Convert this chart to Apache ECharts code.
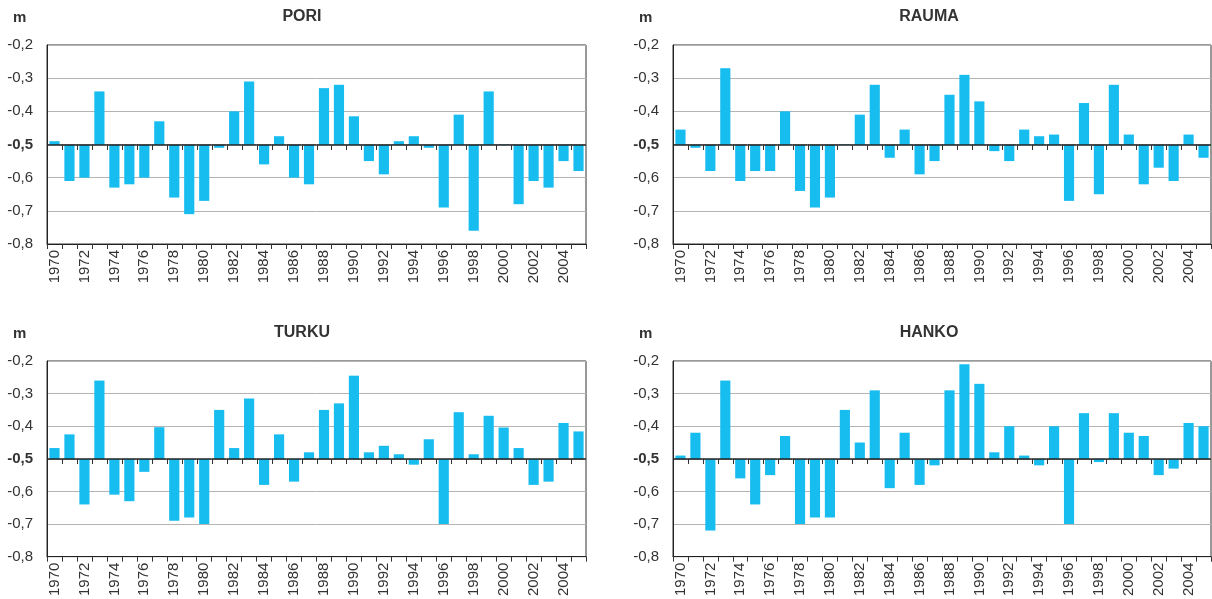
<!DOCTYPE html>
<html>
<head>
<meta charset="utf-8">
<script src="https://cdn.jsdelivr.net/npm/echarts@6/dist/echarts.min.js"></script>
<style>
  html, body { margin: 0; padding: 0; background: #fff; }
  #chart { width: 1212px; height: 599px; }
</style>
</head>
<body>
<div id="chart"></div>
<script>
  // vuodet ja asemien arvot (m)
  const years = []
  for (let y = 1970; y <= 2005; y++) years.push(String(y))

  const pori = [-0.49, -0.61, -0.60, -0.34, -0.63, -0.62, -0.60, -0.43, -0.66, -0.71,
    -0.67, -0.51, -0.40, -0.31, -0.56, -0.475, -0.60, -0.62, -0.33, -0.32,
    -0.415, -0.55, -0.59, -0.49, -0.475, -0.51, -0.69, -0.41, -0.76, -0.34,
    -0.50, -0.68, -0.61, -0.63, -0.55, -0.58]
  const rauma = [-0.455, -0.51, -0.58, -0.27, -0.61, -0.58, -0.58, -0.40, -0.64, -0.69,
    -0.66, -0.50, -0.41, -0.32, -0.54, -0.455, -0.59, -0.55, -0.35, -0.29,
    -0.37, -0.52, -0.55, -0.455, -0.475, -0.47, -0.67, -0.375, -0.65, -0.32,
    -0.47, -0.62, -0.57, -0.61, -0.47, -0.54]
  const turku = [-0.467, -0.425, -0.64, -0.26, -0.61, -0.63, -0.54, -0.403, -0.69, -0.68,
    -0.70, -0.35, -0.467, -0.315, -0.58, -0.425, -0.57, -0.48, -0.35, -0.33,
    -0.245, -0.48, -0.46, -0.486, -0.518, -0.44, -0.70, -0.357, -0.486, -0.368,
    -0.404, -0.467, -0.58, -0.57, -0.39, -0.416]
  const hanko = [-0.49, -0.42, -0.72, -0.26, -0.56, -0.64, -0.55, -0.43, -0.70, -0.68,
    -0.68, -0.35, -0.45, -0.29, -0.59, -0.42, -0.58, -0.52, -0.29, -0.21,
    -0.27, -0.48, -0.40, -0.49, -0.52, -0.40, -0.70, -0.36, -0.51, -0.36,
    -0.42, -0.43, -0.55, -0.53, -0.39, -0.40]

  const stations = ['PORI', 'RAUMA', 'TURKU', 'HANKO']
  const values = [pori, rauma, turku, hanko]
  const BASE = -0.5

  const font = '"Liberation Sans", Arial, sans-serif'
  const textColor = '#333'
  const barColor = '#18bdf0'

  const grids = [
    { left: 47, top: 45, width: 539, height: 199 },
    { left: 673, top: 45, width: 538, height: 199 },
    { left: 47, top: 361, width: 539, height: 198 },
    { left: 673, top: 361, width: 538, height: 198 }
  ]
  const titleX = [302, 929, 302, 929]

  function renderBar(params, api) {
    const i = api.value(0)
    const v = api.value(1)
    const base = api.coord([i, BASE])
    const top = api.coord([i, v])
    const band = api.size([1, 0])[0]
    const w = band * 0.68
    const by = Math.round(base[1])
    const children = [{
      type: 'rect',
      shape: { x: base[0] - w / 2, y: Math.min(by, top[1]), width: w, height: Math.abs(by - top[1]) },
      style: { fill: barColor }
    }, {
      type: 'line',
      shape: { x1: base[0] - band / 2, y1: by, x2: base[0] + band / 2, y2: by },
      style: { stroke: '#222', lineWidth: 1.5 }
    }]
    if (i < years.length - 1) {
      children.push({
        type: 'line',
        shape: { x1: Math.round(base[0] + band / 2) + 0.5, y1: by, x2: Math.round(base[0] + band / 2) + 0.5, y2: by + 5 },
        style: { stroke: '#333', lineWidth: 1 }
      })
    }
    return { type: 'group', children: children }
  }

  const chart = echarts.init(document.getElementById('chart'))

  chart.setOption({
    animation: false,
    textStyle: { fontFamily: font },
    title: stations.map((s, k) => ({
      text: s,
      left: titleX[k],
      top: grids[k].top - 36,
      textAlign: 'center',
      padding: 0,
      textStyle: { fontFamily: font, fontSize: 16, fontWeight: 'bold', color: textColor }
    })).concat(grids.map((g) => ({
      text: 'm',
      left: g.left - 34,
      top: g.top - 35,
      padding: 0,
      textStyle: { fontFamily: font, fontSize: 15, fontWeight: 'bold', color: textColor }
    }))),
    grid: grids.map((g) => Object.assign({ show: true, borderColor: '#333', borderWidth: 1, backgroundColor: '#fff' }, g)),
    xAxis: grids.map((g, k) => ({
      type: 'category',
      gridIndex: k,
      data: years,
      boundaryGap: true,
      axisLine: { lineStyle: { color: '#222', width: 1 } },
      axisTick: { show: true, interval: 0, length: 5, lineStyle: { color: '#333' } },
      axisLabel: {
        interval: 1,
        rotate: 90,
        margin: 6,
        fontFamily: font,
        fontSize: 15,
        color: textColor
      },
      splitLine: { show: false }
    })),
    yAxis: grids.map((g, k) => ({
      type: 'value',
      gridIndex: k,
      min: -0.8,
      max: -0.2,
      interval: 0.1,
      axisLine: { show: true, lineStyle: { color: '#222', width: 1 } },
      axisTick: { show: false },
      splitLine: { show: true, lineStyle: { color: '#b4b4b4', width: 1 } },
      axisLabel: {
        margin: 14,
        fontFamily: font,
        fontSize: 15,
        color: textColor,
        formatter: (v) => {
          const s = v.toFixed(1).replace('.', ',')
          return Math.abs(v - BASE) < 1e-6 ? '{b|' + s + '}' : s
        },
        rich: { b: { fontFamily: font, fontSize: 15, fontWeight: 'bold', color: textColor } }
      }
    })),
    series: values.map((vals, k) => ({
      type: 'custom',
      name: stations[k],
      xAxisIndex: k,
      yAxisIndex: k,
      renderItem: renderBar,
      encode: { x: 0, y: 1 },
      data: vals.map((v, i) => [i, v]),
      z: 3
    }))
  })
</script>
</body>
</html>
